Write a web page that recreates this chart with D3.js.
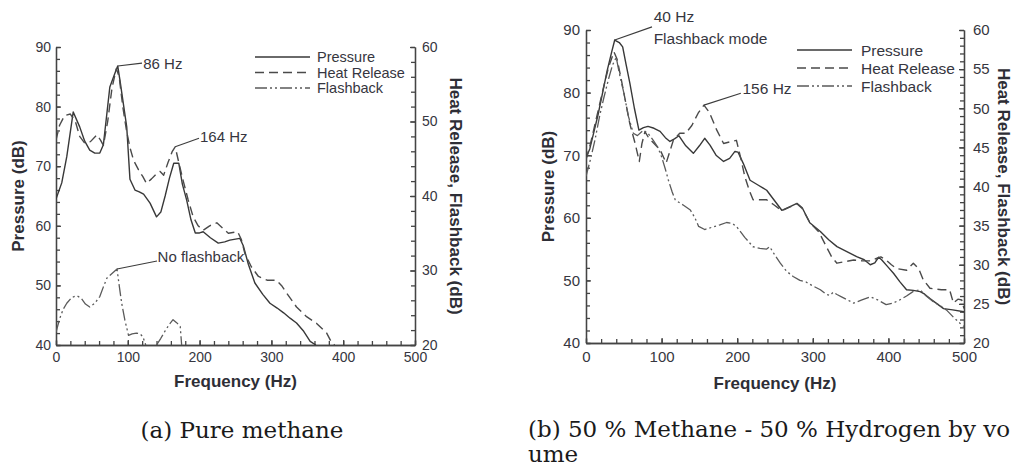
<!DOCTYPE html>
<html>
<head>
<meta charset="utf-8">
<script src="https://cdn.jsdelivr.net/npm/d3@7"></script>
<style>
  html, body { margin: 0; padding: 0; background: #fff; }
  svg { display: block; }
  .ax path, .ax line { stroke: #444; stroke-width: 1.3; }
  .ax text { fill: #363640; font-family: "Liberation Sans", Arial, sans-serif; }
</style>
</head>
<body>
<svg id="fig" width="1016" height="468"></svg>
<script>
// ---- Panel (a): pure methane. [frequency Hz, level dB]
const methanePressure = [
  [0,64.5],[8,67.2],[15,71.6],[24,79.1],[33,76.6],[40,74.2],[47,72.7],[54,72.2],[61,72.2],[66,73.6],
  [75,83.3],[84.5,86.4],[86,86.8],[89,84.5],[98.5,76.6],[103,67.8],[110,66],[116,65.7],[122,65.3],
  [131,63.8],[140,61.5],[146,62.3],[152,65],[158,68],[164,70.5],[171,70.5],[176,67],[182,64.3],
  [188,61],[194,58.8],[200,58.8],[205,59],[215,58],[226,57.1],[235,57.3],[242,57.6],[256,57.9],
  [261,56.6],[268,53.5],[277,50.4],[288,48.5],[298,47],[308,46.2],[317,45.4],[326,44.5],[335,43.7],
  [345,42.3],[354,40.6],[362,40]
];
const methaneHeatRelease = [
  [0,47.5],[5,49.5],[12,50.8],[20,51],[27,50],[33,48],[40,47.1],[48,47.3],[57,48.2],[62,47.5],
  [66,46.8],[72,50],[78,54.5],[84,57.1],[88,56],[93,52],[98,48.9],[103,46.5],[108,44.8],[115,43.5],
  [121,42.6],[126,41.7],[133,42.3],[140,43],[145,43.3],[150,42.8],[156,44.5],[162,46],[166,46.6],
  [171,44.5],[177,42.1],[184,39.5],[191,37.2],[198,36],[205,35.4],[214,36],[224,36.4],[232,35.7],
  [240,35],[253,35.2],[258,34.2],[263,32.3],[272,30.5],[282,29.2],[294,28.7],[307,28.7],[314,28],
  [321,27],[335,25.1],[349,23.8],[363,22.9],[377,21.6],[384,20.3],[388,20]
];
const methaneFlashback = [
  [0,21.7],[5,23.5],[10,24.8],[15,25.6],[22,26.4],[29,26.6],[35,26.3],[41,25.5],[47,25.1],[54,25.6],
  [61,26.5],[66,27.8],[71,29],[78,29.6],[85,30.2],[88,28],[91.5,25.6],[96,23.3],[101,21.3],[106,21.5],
  [112,21.6],[117,21.5],[121,21.1],[125,20],[132,null],[140,20],[146,20.9],[152,21.9],[158,22.8],
  [163,23.4],[168,23],[173,22.5],[175,20]
];

// ---- Panel (b): 50 % methane - 50 % hydrogen. [frequency Hz, level dB]
const hydrogenPressure = [
  [0,69.6],[5,71],[10,73.5],[16,76.5],[22,80],[28,83.5],[34,86.5],[38,88.4],[44,88],[48.5,87.3],
  [53,84.5],[58,81.5],[64,77.5],[70,74],[76,74.4],[82,74.6],[90,74.3],[98,73.8],[105,72.8],[111,72.2],
  [117,72.6],[123,73.1],[132,71.5],[142,70.3],[150,71.5],[157,72.7],[164,71.6],[172,70],[182,69],
  [190,69.5],[197,70.6],[201,70.5],[208,68.7],[217,66],[228,65.2],[239,64.4],[249,62.8],[259,61.2],
  [270,61.8],[279,62.3],[286,61.6],[296,59.2],[310,57.8],[321,56.5],[332,55.4],[345,54.6],[358,53.8],
  [368,53.3],[376,52.5],[382,52.8],[387,53.7],[391,53.3],[399,52.2],[407,51.1],[415,49.8],[424,48.5],
  [433,48.4],[442,48.2],[448,47.8],[455,47.1],[464,46.3],[473,45.5],[485,45.3],[500,45]
];
const hydrogenHeatRelease = [
  [0,43.4],[6,45.5],[12,48],[18,50.5],[24,53],[30,55.3],[37,57.2],[41,56.3],[46,54],[52,51],
  [58,48],[65,45.5],[70.5,43.2],[74,45.5],[78,47],[83,46.2],[90,45.5],[98,44.7],[106,43],[111,44.5],
  [115.5,45.9],[124,46.8],[132,46.8],[140,47.8],[148.5,49.4],[156,50.4],[163,49.5],[173,47.2],
  [182,45.5],[190,45.7],[199,45.9],[205,43.5],[210,41.3],[216,39.5],[221,38.3],[230,38.3],[239,38.3],
  [248,37.7],[259,36.9],[270,37.4],[279,37.8],[286,37.2],[296,35.4],[308,34.2],[318,32.3],[325,31],
  [332,30.2],[343,30.4],[354,30.6],[366,30.5],[376,30.5],[384,30.8],[390,31],[397,30.6],[404,30],
  [411,29.5],[424,29.3],[433,30.2],[440,29.5],[446,28.1],[455,27],[462,26.9],[470,26.8],[481,26.8],
  [486,25.1],[492,25.6],[497,25.5],[500,24.4]
];
const hydrogenFlashback = [
  [0,41.3],[6,43.5],[12,46],[18,49],[24,51.5],[30,53.8],[35,55.5],[40,56.5],[44,54.5],[50,52],
  [56,49],[62.6,46.8],[68,46.5],[76,47.2],[82,46.8],[89,45.9],[95,45],[100,43.8],[105,42.2],[109,40.8],
  [114,39.3],[118,38.3],[124,37.9],[129,37.6],[138,37],[144,36],[149,34.9],[157,34.5],[167,34.8],
  [177,35.1],[186,35.4],[193,35.3],[199,34.9],[210,33.5],[221,32.3],[230,32.1],[239,32],[243,32.3],
  [250,31.2],[257,30.2],[265,29.2],[274,28.5],[283,28],[291,27.8],[300,27.3],[310,26.8],[318,26.2],
  [323,26.1],[327,26.5],[332,26.2],[338,25.9],[346,25.5],[354,25.1],[365,25.5],[376,25.9],[386,25.5],
  [397,24.9],[406,25.1],[415,25.5],[424,26],[433,26.6],[442,26.8],[450,26],[459,25.3],[468,24.8],
  [477,24.2],[486,23.3],[495,22.5],[500,22.1]
];

// ---- Axis ticks
const freqTicks = [0, 100, 200, 300, 400, 500];
const pressureTicks = [40, 50, 60, 70, 80, 90];
const heatTicksA = [20, 30, 40, 50, 60];
const heatTicksB = [20, 25, 30, 35, 40, 45, 50, 55, 60];

const legendNames = ["Pressure", "Heat Release", "Flashback"];
const captionA = ["(a) Pure methane"];
const captionB = ["(b) 50 % Methane - 50 % Hydrogen by vo", "ume"];

// line styles per series
const styles = [
  { dash: null, color: "#383838", width: 1.4 },
  { dash: "9,5", color: "#4a4a4a", width: 1.4 },
  { dash: "12,3,2,3,2,3", color: "#5a5a5a", width: 1.3 }
];

const svg = d3.select("#fig");
const FONT = '"Liberation Sans", Arial, sans-serif';

function drawPanel(cfg) {
  const g = svg.append("g");
  const x = d3.scaleLinear().domain([0, 500]).range([cfg.left, cfg.right]);
  const yL = d3.scaleLinear().domain([40, 90]).range([cfg.bottom, cfg.top]);
  const yR = d3.scaleLinear().domain([20, 60]).range([cfg.bottom, cfg.top]);

  // clip so curves stop at the frame
  const clipId = "clip" + cfg.id;
  svg.append("defs").append("clipPath").attr("id", clipId)
    .append("rect").attr("x", cfg.left).attr("y", cfg.top - 20)
    .attr("width", cfg.right - cfg.left).attr("height", cfg.bottom - cfg.top + 20);

  // minor ticks
  g.append("g").attr("class", "ax").attr("transform", `translate(0,${cfg.bottom})`)
    .call(d3.axisBottom(x).tickValues(d3.range(0, 501, 20)).tickSize(-cfg.minor).tickFormat("").tickSizeOuter(0));
  g.append("g").attr("class", "ax").attr("transform", `translate(${cfg.left},0)`)
    .call(d3.axisLeft(yL).tickValues(d3.range(40, 91, 2)).tickSize(-cfg.minor).tickFormat("").tickSizeOuter(0));
  g.append("g").attr("class", "ax").attr("transform", `translate(${cfg.right},0)`)
    .call(d3.axisRight(yR).tickValues(d3.range(20, 61, cfg.rightMinorStep)).tickSize(-cfg.minor).tickFormat("").tickSizeOuter(0));

  // major ticks with labels
  const ax = g.append("g").attr("class", "ax").attr("transform", `translate(0,${cfg.bottom})`)
    .call(d3.axisBottom(x).tickValues(freqTicks).tickSize(-cfg.major).tickPadding(cfg.xPad).tickSizeOuter(0));
  const ay = g.append("g").attr("class", "ax").attr("transform", `translate(${cfg.left},0)`)
    .call(d3.axisLeft(yL).tickValues(pressureTicks).tickSize(-cfg.major).tickPadding(cfg.yPad).tickSizeOuter(0));
  const ar = g.append("g").attr("class", "ax").attr("transform", `translate(${cfg.right},0)`)
    .call(d3.axisRight(yR).tickValues(cfg.heatTicks).tickSize(-cfg.major).tickPadding(cfg.rPad).tickSizeOuter(0));
  [ax, ay, ar].forEach(a => a.selectAll("text").attr("font-size", cfg.tickFont).attr("font-family", FONT));

  // curves
  const lineL = d3.line().defined(d => d[1] !== null).x(d => x(d[0])).y(d => yL(d[1]));
  const lineR = d3.line().defined(d => d[1] !== null).x(d => x(d[0])).y(d => yR(d[1]));
  const curves = g.append("g").attr("clip-path", `url(#${clipId})`);
  cfg.series.forEach((s, i) => {
    const st = styles[i];
    curves.append("path").datum(s)
      .attr("d", i === 0 ? lineL : lineR)
      .attr("fill", "none").attr("stroke", st.color).attr("stroke-width", st.width)
      .attr("stroke-linejoin", "round")
      .attr("stroke-dasharray", st.dash);
  });

  // legend
  const lg = g.append("g");
  legendNames.forEach((name, i) => {
    const yy = cfg.legend.y + i * cfg.legend.gap;
    const st = styles[i];
    lg.append("line").attr("x1", cfg.legend.x).attr("x2", cfg.legend.x + cfg.legend.len)
      .attr("y1", yy).attr("y2", yy)
      .attr("stroke", st.color).attr("stroke-width", st.width).attr("stroke-dasharray", st.dash);
    lg.append("text").attr("x", cfg.legend.x + cfg.legend.len + cfg.legend.pad).attr("y", yy)
      .attr("dominant-baseline", "central").attr("font-family", FONT)
      .attr("font-size", cfg.legend.font).attr("fill", "#363640").text(name);
  });

  // annotations: leader from a curve point to its text
  cfg.notes.forEach(n => {
    const ys = n.axis === "R" ? yR : yL;
    g.append("line")
      .attr("x1", x(n.at[0])).attr("y1", ys(n.at[1]))
      .attr("x2", x(n.to[0])).attr("y2", yL(n.to[1]))
      .attr("stroke", "#3c3c3c").attr("stroke-width", 1.1);
    n.lines.forEach(t => {
      g.append("text").attr("x", x(t.at[0])).attr("y", yL(t.at[1]))
        .attr("dominant-baseline", "central").attr("font-family", FONT)
        .attr("font-size", cfg.noteFont).attr("fill", "#363640").text(t.text);
    });
  });

  // axis titles
  const midY = (cfg.top + cfg.bottom) / 2;
  g.append("text").attr("transform", `translate(${cfg.titleL},${midY}) rotate(-90)`)
    .attr("text-anchor", "middle").attr("dominant-baseline", "central")
    .attr("font-family", FONT).attr("font-weight", "bold").attr("font-size", cfg.titleFont)
    .attr("fill", "#2e2e36").text("Pressure (dB)");
  g.append("text").attr("transform", `translate(${cfg.titleR},${midY}) rotate(90)`)
    .attr("text-anchor", "middle").attr("dominant-baseline", "central")
    .attr("font-family", FONT).attr("font-weight", "bold").attr("font-size", cfg.titleFont)
    .attr("fill", "#2e2e36").text("Heat Release, Flashback (dB)");
  g.append("text").attr("x", (cfg.left + cfg.right) / 2).attr("y", cfg.titleX)
    .attr("text-anchor", "middle").attr("dominant-baseline", "central")
    .attr("font-family", FONT).attr("font-weight", "bold").attr("font-size", cfg.titleFont)
    .attr("fill", "#2e2e36").text("Frequency (Hz)");

  // caption
  cfg.caption.forEach((c, i) => {
    svg.append("text").attr("x", cfg.capX).attr("y", cfg.capY + i * 25)
      .attr("text-anchor", cfg.capAnchor)
      .attr("font-family", '"DejaVu Serif", "Liberation Serif", serif')
      .attr("font-size", 23).attr("fill", "#1a1a1a").text(c);
  });
}

drawPanel({
  id: "a", left: 56, right: 415, top: 47, bottom: 345,
  series: [methanePressure, methaneHeatRelease, methaneFlashback],
  heatTicks: heatTicksA, rightMinorStep: 2,
  major: 5, minor: 4, xPad: 7, yPad: 5, rPad: 7, tickFont: 14,
  legend: { x: 255, y: 57, gap: 15.5, len: 55, pad: 7, font: 14.5 },
  noteFont: 15,
  notes: [
    { at: [86, 86.8], axis: "L", to: [119.8, 87.3], lines: [{ at: [121.5, 87.3], text: "86 Hz" }] },
    { at: [166, 46.6], axis: "R", to: [199.2, 74.7], lines: [{ at: [200.6, 74.9], text: "164 Hz" }] },
    { at: [85, 30.2], axis: "R", to: [140.7, 54.1], lines: [{ at: [141.5, 54.9], text: "No flashback" }] }
  ],
  titleL: 18, titleR: 455, titleX: 381, titleFont: 17,
  caption: captionA, capX: 242, capY: 438, capAnchor: "middle"
});

drawPanel({
  id: "b", left: 586, right: 964, top: 30, bottom: 343,
  series: [hydrogenPressure, hydrogenHeatRelease, hydrogenFlashback],
  heatTicks: heatTicksB, rightMinorStep: 1,
  major: 5, minor: 4, xPad: 8, yPad: 6, rPad: 9, tickFont: 15,
  legend: { x: 797, y: 50, gap: 18, len: 55, pad: 9, font: 15.5 },
  noteFont: 15.5,
  notes: [
    { at: [38, 88.4], axis: "L", to: [87.3, 90.5], lines: [
        { at: [89.5, 92.1], text: "40 Hz" }, { at: [89.5, 88.7], text: "Flashback mode" }] },
    { at: [156, 50.4], axis: "R", to: [204.8, 79.9], lines: [{ at: [207, 80.6], text: "156 Hz" }] }
  ],
  titleL: 548, titleR: 1003, titleX: 383, titleFont: 17,
  caption: captionB, capX: 528, capY: 437, capAnchor: "start"
});
</script>
</body>
</html>
